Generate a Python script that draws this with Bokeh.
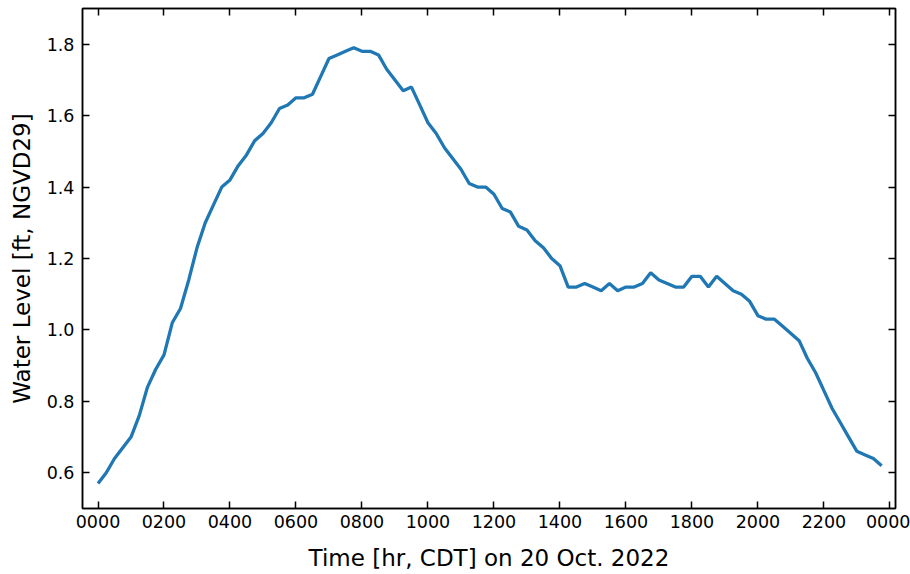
from bokeh.plotting import figure
from bokeh.models import LinearAxis, FixedTicker, PrintfTickFormatter, Range1d
from bokeh.embed import file_html
from bokeh.resources import INLINE

# 15-minute samples on 20 Oct. 2022 (hours after midnight)
hours = [i * 0.25 for i in range(96)]
water_level = [
    0.57, 0.60, 0.64, 0.67, 0.70, 0.76, 0.84, 0.89, 0.93, 1.02, 1.06, 1.14,
    1.23, 1.30, 1.35, 1.40, 1.42, 1.46, 1.49, 1.53, 1.55, 1.58, 1.62, 1.63,
    1.65, 1.65, 1.66, 1.71, 1.76, 1.77, 1.78, 1.79, 1.78, 1.78, 1.77, 1.73,
    1.70, 1.67, 1.68, 1.63, 1.58, 1.55, 1.51, 1.48, 1.45, 1.41, 1.40, 1.40,
    1.38, 1.34, 1.33, 1.29, 1.28, 1.25, 1.23, 1.20, 1.18, 1.12, 1.12, 1.13,
    1.12, 1.11, 1.13, 1.11, 1.12, 1.12, 1.13, 1.16, 1.14, 1.13, 1.12, 1.12,
    1.15, 1.15, 1.12, 1.15, 1.13, 1.11, 1.10, 1.08, 1.04, 1.03, 1.03, 1.01,
    0.99, 0.97, 0.92, 0.88, 0.83, 0.78, 0.74, 0.70, 0.66, 0.65, 0.64, 0.62,
]

x_ticks = [0, 2, 4, 6, 8, 10, 12, 14, 16, 18, 20, 22, 24]
x_tick_labels = ["0000", "0200", "0400", "0600", "0800", "1000", "1200",
                 "1400", "1600", "1800", "2000", "2200", "0000"]
y_ticks = [0.6, 0.8, 1.0, 1.2, 1.4, 1.6, 1.8]

x_label = "Time [hr, CDT] on 20 Oct. 2022"
y_label = "Water Level [ft, NGVD29]"

FONT = "DejaVu Sans"

p = figure(width=910, height=574, output_backend="svg", toolbar_location=None,
           x_range=Range1d(-0.47, 24.17), y_range=Range1d(0.5, 1.9),
           min_border_left=82, min_border_right=15, min_border_top=8,
           min_border_bottom=66, x_axis_location=None, y_axis_location=None)

p.background_fill_color = "white"
p.border_fill_color = "white"
p.outline_line_color = "black"
p.outline_line_width = 1.5
p.xgrid.visible = False
p.ygrid.visible = False

p.line(hours, water_level, line_color="#1f77b4", line_width=3.3)

label_overrides = {t: s for t, s in zip(x_ticks, x_tick_labels)}


def style(ax, show_labels):
    ax.axis_line_color = "black"
    ax.axis_line_width = 1.5
    ax.major_tick_in = 7
    ax.major_tick_out = 0
    ax.major_tick_line_width = 1.5
    ax.major_tick_line_color = "black"
    ax.minor_tick_in = 0
    ax.minor_tick_out = 0
    ax.minor_tick_line_color = None
    ax.major_label_text_font = FONT
    ax.major_label_text_color = "black"
    ax.major_label_text_line_height = 1.0
    ax.axis_label_text_line_height = 1.0
    if show_labels:
        ax.major_label_text_font_size = "17.5px"
    else:
        ax.major_label_text_font_size = "0px"
        ax.major_label_standoff = 0


xb = LinearAxis(ticker=FixedTicker(ticks=x_ticks))
xb.major_label_overrides = label_overrides
style(xb, True)
xb.major_label_standoff = 6
xb.axis_label = x_label
xb.axis_label_text_font = FONT
xb.axis_label_text_font_size = "23px"
xb.axis_label_text_font_style = "normal"
xb.axis_label_text_color = "black"
xb.axis_label_standoff = 14
p.add_layout(xb, "below")

yl = LinearAxis(ticker=FixedTicker(ticks=y_ticks),
                formatter=PrintfTickFormatter(format="%.1f"))
style(yl, True)
yl.major_label_standoff = 8
yl.axis_label = y_label
yl.axis_label_text_font = FONT
yl.axis_label_text_font_size = "23px"
yl.axis_label_text_font_style = "normal"
yl.axis_label_text_color = "black"
yl.axis_label_standoff = 9
p.add_layout(yl, "left")

xt = LinearAxis(ticker=FixedTicker(ticks=x_ticks))
xt.major_label_overrides = {t: "" for t in x_ticks}
style(xt, False)
p.add_layout(xt, "above")

yr = LinearAxis(ticker=FixedTicker(ticks=y_ticks))
yr.major_label_overrides = {t: "" for t in y_ticks}
style(yr, False)
p.add_layout(yr, "right")

open("out.html", "w").write(file_html(p, INLINE))
